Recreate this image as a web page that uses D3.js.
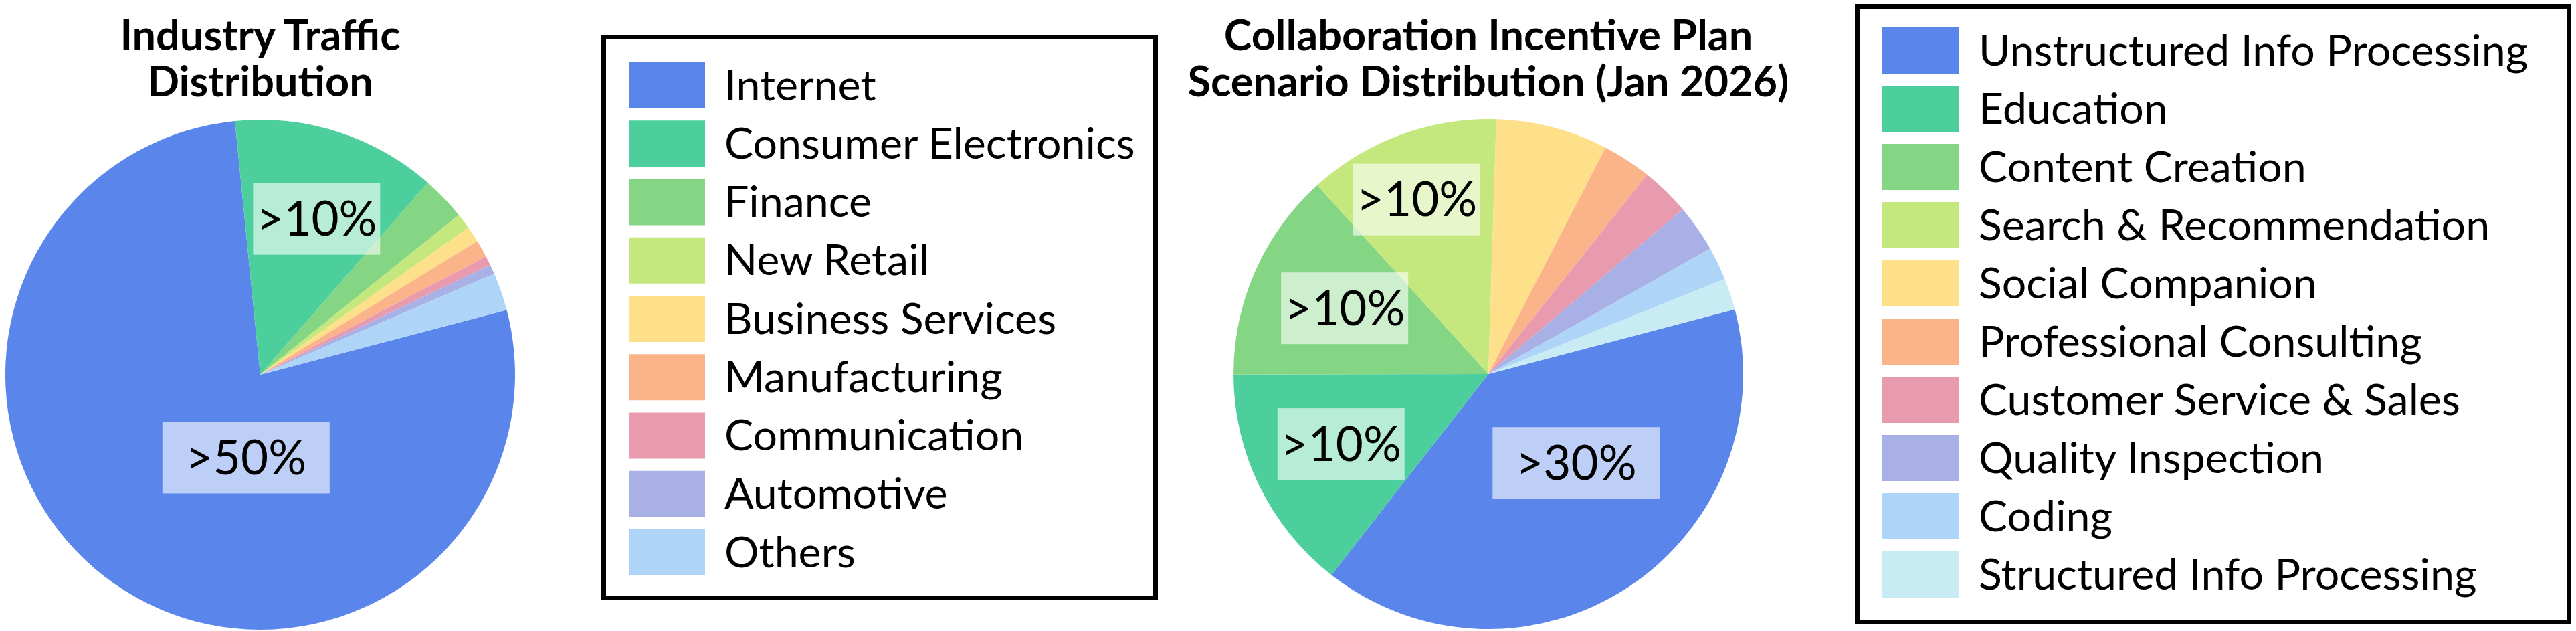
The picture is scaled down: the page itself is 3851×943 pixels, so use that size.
<!DOCTYPE html>
<html>
<head>
<meta charset="utf-8">
<script src="https://cdn.jsdelivr.net/npm/d3@7"></script>
<style>
  body { margin: 0; background: #fff; }
  text { font-family: Lato, "Open Sans", sans-serif; fill: #000; }
</style>
</head>
<body>
<svg id="chart" width="3851" height="943"></svg>
<script>
// ---- data ----
var industryNames = ["Internet", "Consumer Electronics", "Finance", "New Retail", "Business Services",
  "Manufacturing", "Communication", "Automotive", "Others"]
var industryShare = [77.5, 13.0, 2.8, 1.0, 1.0, 1.1, 0.6, 0.6, 2.4]
var industryLabels = [">50%", ">10%"]

var scenarioNames = ["Unstructured Info Processing", "Education", "Content Creation", "Search & Recommendation",
  "Social Companion", "Professional Consulting", "Customer Service & Sales", "Quality Inspection",
  "Coding", "Structured Info Processing"]
var scenarioShare = [39.6, 14.4, 13.3, 12.2, 7.1, 3.1, 3.1, 3.0, 2.1, 2.0]
var scenarioLabels = [">30%", ">10%", ">10%", ">10%"]

var palette = ["#5a86ec", "#4ccf9c", "#84d685", "#c5e87e", "#fee08a", "#fbb48a", "#e89bae", "#a9b0e6", "#aed4f8", "#c8ebf4"]

// ---- layout ----
var svg = d3.select("#chart")
var radius = 381
var startDeg = 75.3

var charts = [
  {
    title: ["Industry Traffic", "Distribution"],
    names: industryNames, values: industryShare, labels: industryLabels,
    cx: 389, cy: 560,
    // label spots: [angle deg, fraction of radius, box width]
    spots: [[189.7, 0.33, 250], [19.9, 0.65, 190]],
    legend: {x: 902.5, y: 55.5, w: 825, h: 838, sx: 940, sw: 114, sh: 69, top: 93, step: 87.25, tx: 1083, fs: 64.5}
  },
  {
    title: ["Collaboration Incentive Plan", "Scenario Distribution (Jan 2026)"],
    names: scenarioNames, values: scenarioShare, labels: scenarioLabels,
    cx: 2225, cy: 559,
    spots: [[135.3, 0.49, 250], [244.6, 0.64, 190], [294.6, 0.62, 190], [337.7, 0.74, 190]],
    legend: {x: 2776.5, y: 9.5, w: 1064, h: 920, sx: 2814, sw: 115, sh: 69, top: 41, step: 87, tx: 2958, fs: 64.5}
  }
]

var rad = function(deg) { return deg * Math.PI / 180 }

charts.forEach(function(c) {
  var color = d3.scaleOrdinal().domain(c.names).range(palette)

  var pie = d3.pie()
    .sort(null)
    .value(function(d) { return d.v })
    .startAngle(rad(startDeg))
    .endAngle(rad(startDeg) + 2 * Math.PI)

  var arc = d3.arc().innerRadius(0).outerRadius(radius)

  var rows = c.names.map(function(n, i) { return {name: n, v: c.values[i]} })

  var g = svg.append("g")
    .attr("transform", `translate(${c.cx},${c.cy})`)

  g.selectAll("path")
    .data(pie(rows))
    .enter().append("path")
    .attr("d", arc)
    .attr("fill", function(d) { return color(d.data.name) })

  // percentage tags
  c.labels.forEach(function(lab, i) {
    var s = c.spots[i]
    var p = d3.arc().innerRadius(radius * s[1]).outerRadius(radius * s[1])
      .centroid({startAngle: rad(s[0]), endAngle: rad(s[0])})
    var tag = g.append("g").attr("transform", `translate(${p[0]},${p[1]})`)
    tag.append("rect")
      .attr("x", -s[2] / 2)
      .attr("y", -53.5)
      .attr("width", s[2])
      .attr("height", 107)
      .attr("fill", "#fff")
      .attr("fill-opacity", 0.6)
    tag.append("text")
      .attr("text-anchor", "middle")
      .attr("y", 25)
      .style("font-size", "71px")
      .text(lab)
  })

  // title
  svg.append("text")
    .attr("x", c.cx)
    .attr("y", 75)
    .attr("text-anchor", "middle")
    .style("font-size", "63px")
    .style("font-weight", "bold")
    .selectAll("tspan")
    .data(c.title)
    .enter().append("tspan")
    .attr("x", c.cx)
    .attr("dy", function(d, i) { return i ? 69 : 0 })
    .text(function(d) { return d })

  // legend
  var L = c.legend
  var y = d3.scaleLinear().domain([0, c.names.length - 1])
    .range([L.top, L.top + L.step * (c.names.length - 1)])

  svg.append("rect")
    .attr("x", L.x).attr("y", L.y)
    .attr("width", L.w).attr("height", L.h)
    .attr("fill", "none")
    .attr("stroke", "#000")
    .attr("stroke-width", 7)

  var item = svg.append("g").selectAll("g")
    .data(c.names)
    .enter().append("g")
    .attr("transform", function(d, i) { return `translate(0,${y(i)})` })

  item.append("rect")
    .attr("x", L.sx)
    .attr("width", L.sw)
    .attr("height", L.sh)
    .attr("fill", function(d) { return color(d) })

  item.append("text")
    .attr("x", L.tx)
    .attr("y", L.sh / 2 + 22)
    .style("font-size", L.fs + "px")
    .text(function(d) { return d })
})
</script>
</body>
</html>
